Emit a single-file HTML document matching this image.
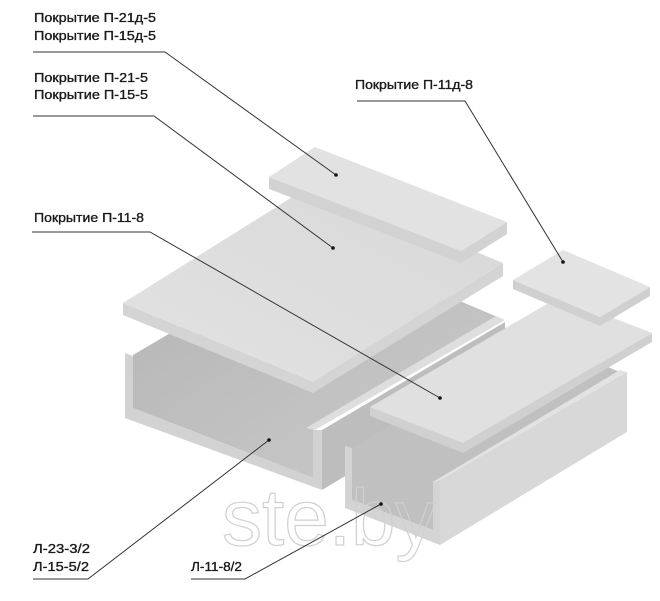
<!DOCTYPE html>
<html><head><meta charset="utf-8"><style>
html,body{margin:0;padding:0;background:#fff;width:660px;height:601px;overflow:hidden}
svg{display:block}
text{font-family:"Liberation Sans",sans-serif;font-size:13px;fill:#1a1a1a;stroke:#1a1a1a;stroke-width:0.35}
</style></head><body>
<svg width="660" height="601" viewBox="0 0 660 601" xmlns="http://www.w3.org/2000/svg">
<defs>
<linearGradient id="gi" x1="0" y1="0" x2="1" y2="1">
<stop offset="0" stop-color="#b4b4b4"/><stop offset="0.6" stop-color="#c2c2c2"/><stop offset="1" stop-color="#cacaca"/></linearGradient>
<linearGradient id="gt" x1="0" y1="1" x2="1" y2="0">
<stop offset="0" stop-color="#e2e2e2"/><stop offset="1" stop-color="#d8d8d8"/></linearGradient>
</defs>

<!-- Channel C -->
<polygon points="322,430 505,322 505,380 322,490" fill="#bdbdbd"/>
<polygon points="133,355 323,243 500,318 313,430 313,478 133,408" fill="url(#gi)"/>
<polygon points="125,353 133,356 133,408 313,478 313,430 322,430 322,490 125,418" fill="#d2d2d2"/>
<polygon points="306,428 496,316 505,320 315,430" fill="#dedede"/>

<!-- Slab B -->
<polygon points="123,303 313,382 503,263 503,276 313,393 123,315" fill="#d4d4d4"/>
<polygon points="123,303 313,184 503,263 313,382" fill="url(#gt)"/>
<!-- Slab A -->
<polygon points="269,177 461,251 507,222 507,234 461,263 269,189" fill="#d2d2d2"/>
<polygon points="269,177 315,147 507,222 461,251" fill="#e2e2e2"/>

<!-- Channel D -->
<polygon points="352,448 540,340 620,372 433,482 433,530 352,500" fill="#c0c0c0"/>
<polygon points="345,446 352,448 352,500 433,530 433,482 440,480 440,545 345,508" fill="#d4d4d4"/>
<polygon points="440,480 627,372 627,432 440,545" fill="#d8d8d8"/>
<polygon points="433,482 620,370 627,372 440,480" fill="#e2e2e2"/>

<!-- Slab E -->
<polygon points="370,407 463,443 652,333 652,342 463,453 370,416" fill="#d0d0d0"/>
<polygon points="370,407 559,297 652,333 463,443" fill="#e0e0e0"/>
<!-- Slab F -->
<polygon points="513,280 600,317 650,287 650,296 600,326 513,289" fill="#d0d0d0"/>
<polygon points="513,280 563,250 650,287 600,317" fill="#e3e3e3"/>

<!-- watermark -->
<text x="222" y="545" style="font-size:80px;fill:none;stroke:#d0d0d0;stroke-width:1.2">ste.by</text>

<!-- leaders -->
<g fill="none" stroke-width="1">
<polyline points="33,52 165,52 336,175" stroke="#333"/>
<polyline points="33,116 154,116 333,248" stroke="#333"/>
<polyline points="32,232 150,232 440,398" stroke="#333"/>
<polyline points="357,101 465,101 563,262" stroke="#333"/>
<polyline points="33,579 88,579 269,440" stroke="#333"/>
<polyline points="191,579 245,579 381,504" stroke="#333"/>
</g>
<g fill="#111">
<circle cx="336" cy="175" r="1.8"/><circle cx="333" cy="248" r="1.8"/>
<circle cx="440" cy="398" r="1.8"/><circle cx="563" cy="262" r="1.8"/>
<circle cx="269" cy="440" r="1.8"/><circle cx="381" cy="504" r="1.8"/>
</g>

<text x="34" y="22" textLength="122" lengthAdjust="spacingAndGlyphs">Покрытие П-21д-5</text>
<text x="34" y="40" textLength="122" lengthAdjust="spacingAndGlyphs">Покрытие П-15д-5</text>
<text x="34" y="82" textLength="114" lengthAdjust="spacingAndGlyphs">Покрытие П-21-5</text>
<text x="34" y="99" textLength="114" lengthAdjust="spacingAndGlyphs">Покрытие П-15-5</text>
<text x="34" y="222" textLength="110" lengthAdjust="spacingAndGlyphs">Покрытие П-11-8</text>
<text x="355" y="89" textLength="118" lengthAdjust="spacingAndGlyphs">Покрытие П-11д-8</text>
<text x="33" y="553" textLength="57" lengthAdjust="spacingAndGlyphs">Л-23-3/2</text>
<text x="33" y="571" textLength="56" lengthAdjust="spacingAndGlyphs">Л-15-5/2</text>
<text x="191" y="571" textLength="51" lengthAdjust="spacingAndGlyphs">Л-11-8/2</text>
</svg>
</body></html>
